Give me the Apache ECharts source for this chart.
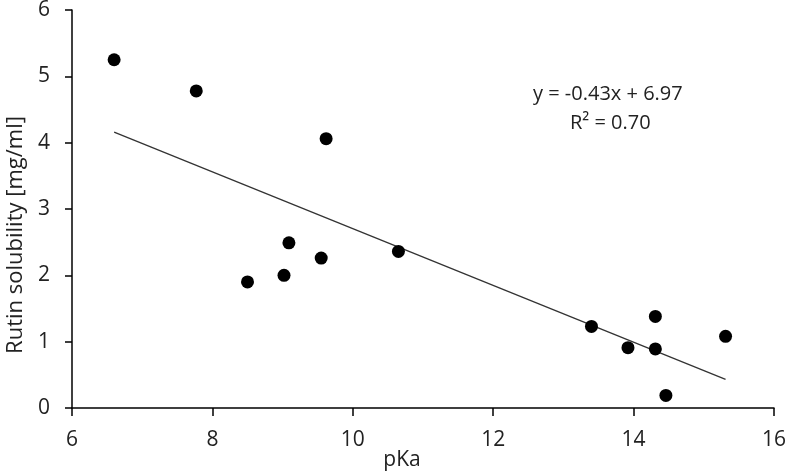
<!DOCTYPE html>
<html>
<head>
<meta charset="utf-8">
<script src="https://cdn.jsdelivr.net/npm/echarts@6/dist/echarts.min.js"></script>
<style>
html,body{margin:0;padding:0;background:#fff;}
#chart{width:788px;height:476px;}
</style>
</head>
<body>
<div id="chart"></div>
<script>
var pKa = [6.60, 7.77, 9.62, 9.09, 8.50, 9.02, 9.55, 10.65, 13.40, 13.92, 14.31, 14.31, 14.46, 15.31];
var solubility = [5.25, 4.78, 4.06, 2.49, 1.90, 2.00, 2.26, 2.36, 1.23, 0.91, 1.38, 0.89, 0.19, 1.08];
var trendSlope = -0.43;
var trendIntercept = 6.97;
var equationText = 'y = -0.43x + 6.97';
var r2Text = 'R² = 0.70';
var xTicks = [6, 8, 10, 12, 14, 16];
var yTicks = [0, 1, 2, 3, 4, 5, 6];

var FONT = '"Open Sans", "Noto Sans", sans-serif';
var pts = pKa.map(function (x, i) { return [x, solubility[i]]; });
var xmin = Math.min.apply(null, pKa), xmax = Math.max.apply(null, pKa);
// least-squares fit through the points (the line the reference draws)
var n = pKa.length, sx = 0, sy = 0, sxx = 0, sxy = 0;
for (var i = 0; i < n; i++) { sx += pKa[i]; sy += solubility[i]; sxx += pKa[i]*pKa[i]; sxy += pKa[i]*solubility[i]; }
var b = (n*sxy - sx*sy) / (n*sxx - sx*sx);
var a = (sy - b*sx) / n;
var trend = [[xmin, a + b*xmin], [xmax, a + b*xmax]];

var chart = echarts.init(document.getElementById('chart'), null, {renderer: 'canvas'});
chart.setOption({
  animation: false,
  backgroundColor: '#fff',
  grid: {left: 72, right: 14, top: 10, bottom: 68, containLabel: false, outerBoundsMode: 'none'},
  xAxis: {
    type: 'value', min: xTicks[0], max: xTicks[xTicks.length-1], interval: 2,
    name: 'pKa', nameLocation: 'middle', nameGap: 42, nameMoveOverlap: false,
    nameTextStyle: {fontFamily: FONT, fontSize: 21, color: '#222', padding: [0, 42, 0, 0]},
    axisLine: {show: true, lineStyle: {color: '#000', width: 1.5}},
    axisTick: {show: true, inside: false, length: 8, lineStyle: {color: '#000', width: 1.5}},
    axisLabel: {fontFamily: FONT, fontSize: 21, color: '#222', margin: 22},
    splitLine: {show: false}
  },
  yAxis: {
    type: 'value', min: yTicks[0], max: yTicks[yTicks.length-1], interval: 1,
    name: 'Rutin solubility [mg/ml]', nameLocation: 'middle', nameGap: 45, nameMoveOverlap: false,
    nameTextStyle: {fontFamily: FONT, fontSize: 22, color: '#222', padding: [0, 0, 0, -52]},
    axisLine: {show: true, lineStyle: {color: '#000', width: 1.5}},
    axisTick: {show: true, inside: false, length: 7, lineStyle: {color: '#000', width: 1.5}},
    axisLabel: {fontFamily: FONT, fontSize: 21, color: '#222', margin: 22},
    splitLine: {show: false}
  },
  series: [
    {
      type: 'line', data: trend, showSymbol: false, symbol: 'none',
      lineStyle: {color: '#333', width: 1.3}, silent: true, z: 1
    },
    {
      type: 'scatter', data: pts, symbol: 'circle', symbolSize: 13,
      itemStyle: {color: '#000', opacity: 1}, z: 2
    }
  ],
  graphic: [
    {type: 'text', left: 533, top: 84, style: {text: equationText, fontFamily: FONT, fontSize: 20, fill: '#222'}},
    {type: 'text', left: 570, top: 113, style: {text: r2Text, fontFamily: FONT, fontSize: 20, fill: '#222'}}
  ]
});
</script>
</body>
</html>
